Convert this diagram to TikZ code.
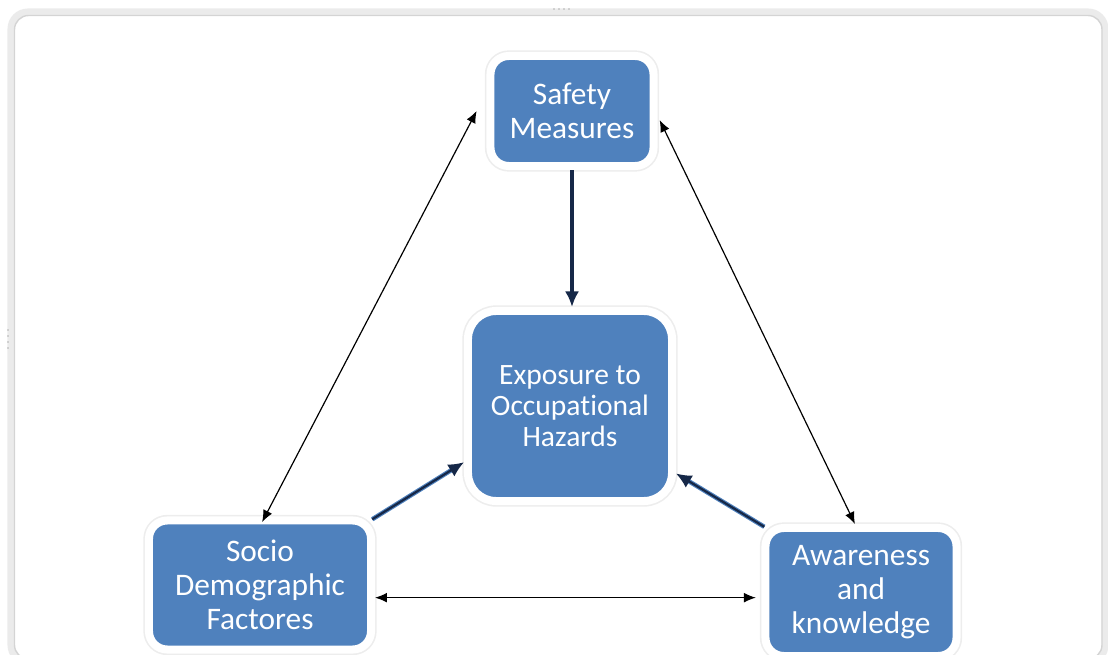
\documentclass[tikz,border=0pt]{standalone}
\usepackage{fontspec}
\setmainfont{Carlito}[Ligatures={NoCommon}]
\usetikzlibrary{arrows.meta}
\definecolor{boxblue}{RGB}{79,129,189}
\definecolor{navy}{RGB}{22,40,72}

\begin{document}
\begin{tikzpicture}[x=0.025cm,y=-0.025cm,
  factor/.style={fill=boxblue,draw=white,line width=5.7pt,rounded corners=13pt,
    preaction={draw=black!7,line width=8pt},
    text=white,align=center,inner sep=0pt,font=\fontsize{22.3}{24.2}\selectfont},
  link/.style={{Latex[length=8.5pt,width=7pt]}-{Latex[length=8.5pt,width=7pt]},line width=0.85pt,black},
  flow/.style={-{Latex[length=11pt,width=10pt]},line width=2.6pt,navy},
  flowlit/.style={-{Latex[length=11pt,width=10pt]},line width=1.6pt,navy,
    preaction={draw=boxblue,line width=3.2pt,arrows=-,shorten >=10pt}},
]
  \useasboundingbox (0,0) rectangle (1108,655);
  \clip (0,0) rectangle (1108,655);

  % window frame
  \draw[black!8,line width=5pt,rounded corners=12pt] (11,12) rectangle (1105,662);
  \draw[black!17,line width=1pt,rounded corners=10pt] (14.5,15.5) rectangle (1102,659);
  \foreach \x in {554,559,564,569} \fill[black!30] (\x,9) circle (0.9);
  \foreach \y in {330,336,342,348} \fill[black!30] (8,\y) circle (0.9);

  % boxes
  \node[factor,minimum width=4.075cm,minimum height=2.75cm] (safety) at (572,111) {Safety\\Measures};
  \node[factor,minimum width=5.1cm,minimum height=4.75cm,rounded corners=20pt,
    font=\fontsize{21}{22}\selectfont] (exposure) at (570,406) {Exposure to\\Occupational\\Hazards};
  \node[factor,minimum width=5.55cm,minimum height=3.225cm] (socio) at (260,585) {Socio\\Demographic\\Factores};
  \node[factor,minimum width=4.775cm,minimum height=3.2cm] (aware) at (861,592) {Awareness\\and\\knowledge};

  % influences on exposure
  \draw[flow] (safety.south) -- (safety.south |- exposure.north);
  \draw[flowlit] ([xshift=-2pt,yshift=-2pt]socio.north east) -- ([yshift=-40pt]exposure.west);
  \draw[flowlit] ([xshift=2pt,yshift=-2pt]aware.north west) -- ([yshift=-48pt]exposure.east);

  % two-way links
  \draw[link] ([xshift=1.5pt,yshift=-4pt]socio.north) -- ([xshift=-7pt]safety.west);
  \draw[link] ([xshift=1.5pt,yshift=-6.4pt]safety.east) -- ([xshift=-4.3pt]aware.north);
  \draw[link,shorten >=4pt] ([yshift=-9pt]socio.east) -- ([yshift=-9pt]socio.east -| aware.west);
\end{tikzpicture}
\end{document}
